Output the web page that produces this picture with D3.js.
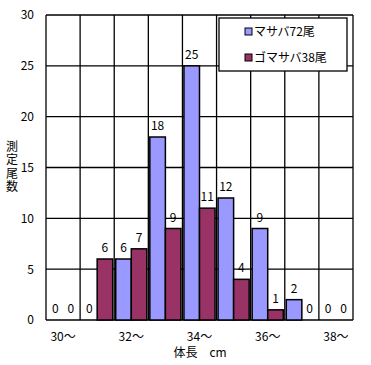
<!DOCTYPE html>
<html>
<head>
<meta charset="utf-8">
<script src="https://cdn.jsdelivr.net/npm/d3@7"></script>
<style>
  body { margin: 0; background: #fff; }
  text { font-family: "Noto Sans CJK JP", "DejaVu Sans", sans-serif; font-size: 12px; fill: #000; }
</style>
</head>
<body>
<script>
// categories (body length, cm) and counts per species
var categories = ["30", "31", "32", "33", "34", "35", "36", "37", "38"];
var tickLabels = ["30～", "", "32～", "", "34～", "", "36～", "", "38～"];
var seriesNames = ["マサバ72尾", "ゴマサバ38尾"];
var masaba = [0, 0, 6, 18, 25, 12, 9, 2, 0];
var gomasaba = [0, 6, 7, 9, 11, 4, 1, 0, 0];
var colors = ["#9999ff", "#993366"];
var yTicks = [0, 5, 10, 15, 20, 25, 30];

var W = 371, H = 365;
var margin = {top: 15, right: 18, bottom: 45, left: 46},
    width = W - margin.left - margin.right,
    height = H - margin.top - margin.bottom;

var svg = d3.select("body").append("svg")
    .attr("width", W)
    .attr("height", H);

var g = svg.append("g")
    .attr("transform", "translate(" + margin.left + "," + margin.top + ")");

var x0 = d3.scaleBand().domain(categories).range([0, width]).padding(0);
var x1 = d3.scaleBand().domain([0, 1]).range([1.5, x0.bandwidth() - 1.5]).padding(0);
var y = d3.scaleLinear().domain([0, 30]).range([height, 0]);

// horizontal grid lines
g.selectAll(".hgrid")
    .data(yTicks)
  .enter().append("line")
    .attr("x1", 0).attr("x2", width)
    .attr("y1", function(d) { return y(d); })
    .attr("y2", function(d) { return y(d); })
    .attr("stroke", "#000").attr("stroke-width", 1.3);

// vertical grid lines at category boundaries
g.selectAll(".vgrid")
    .data(categories.concat(["end"]))
  .enter().append("line")
    .attr("x1", function(d, i) { return i * x0.step(); })
    .attr("x2", function(d, i) { return i * x0.step(); })
    .attr("y1", 0).attr("y2", height)
    .attr("stroke", "#000").attr("stroke-width", 1.3);

// y axis labels
var yAxis = d3.axisLeft(y).tickValues(yTicks).tickSize(0).tickPadding(12);
var ya = g.append("g").call(yAxis);
ya.select(".domain").remove();
ya.selectAll("text").style("font-size", "12px").attr("font-family", null);

// x axis labels
var xAxis = d3.axisBottom(x0).tickFormat(function(d, i) { return tickLabels[i]; }).tickSize(0).tickPadding(12);
var xa = g.append("g").attr("transform", "translate(0," + height + ")").call(xAxis);
xa.select(".domain").remove();
xa.selectAll("text").attr("font-family", null).style("font-size", "12px");

// bars
var data = categories.map(function(c, i) { return {cat: c, vals: [masaba[i], gomasaba[i]]}; });

var groups = g.selectAll(".grp")
    .data(data)
  .enter().append("g")
    .attr("transform", function(d) { return "translate(" + x0(d.cat) + ",0)"; });

groups.selectAll("rect")
    .data(function(d) {
      return d.vals.map(function(v, k) { return {v: v, k: k}; })
        .filter(function(e) { return e.v > 0; });
    })
  .enter().append("rect")
    .attr("x", function(d) { return x1(d.k); })
    .attr("y", function(d) { return y(d.v); })
    .attr("width", x1.bandwidth())
    .attr("height", function(d) { return y(0) - y(d.v); })
    .attr("fill", function(d) { return colors[d.k]; })
    .attr("stroke", "#000").attr("stroke-width", 1.5);

// value labels
groups.selectAll(".lbl")
    .data(function(d) { return d.vals.map(function(v, k) { return {v: v, k: k}; }); })
  .enter().append("text")
    .attr("x", function(d) { return x1(d.k) + x1.bandwidth() / 2; })
    .attr("y", function(d) { return y(d.v) - 7; })
    .attr("text-anchor", "middle")
    .text(function(d) { return d.v; });

// x axis title
svg.append("text")
    .attr("x", 200).attr("y", 357)
    .attr("text-anchor", "middle")
    .text("体長　cm");

// y axis title, written vertically
svg.append("text")
    .attr("x", 12).attr("y", 140)
    .style("writing-mode", "vertical-rl")
    .style("letter-spacing", "1.5px")
    .text("測定尾数");

// legend
var lg = svg.append("g").attr("transform", "translate(219,18)");
lg.append("rect")
    .attr("width", 128).attr("height", 53)
    .attr("fill", "#fff").attr("stroke", "#000").attr("stroke-width", 1.3);
var items = lg.selectAll(".item")
    .data(seriesNames)
  .enter().append("g")
    .attr("transform", function(d, i) { return "translate(26," + (10 + i * 26) + ")"; });
items.append("rect")
    .attr("width", 7).attr("height", 7)
    .attr("fill", function(d, i) { return colors[i]; })
    .attr("stroke", "#000").attr("stroke-width", 1);
items.append("text")
    .attr("x", 9).attr("y", 8)
    .text(function(d) { return d; });
</script>
</body>
</html>
